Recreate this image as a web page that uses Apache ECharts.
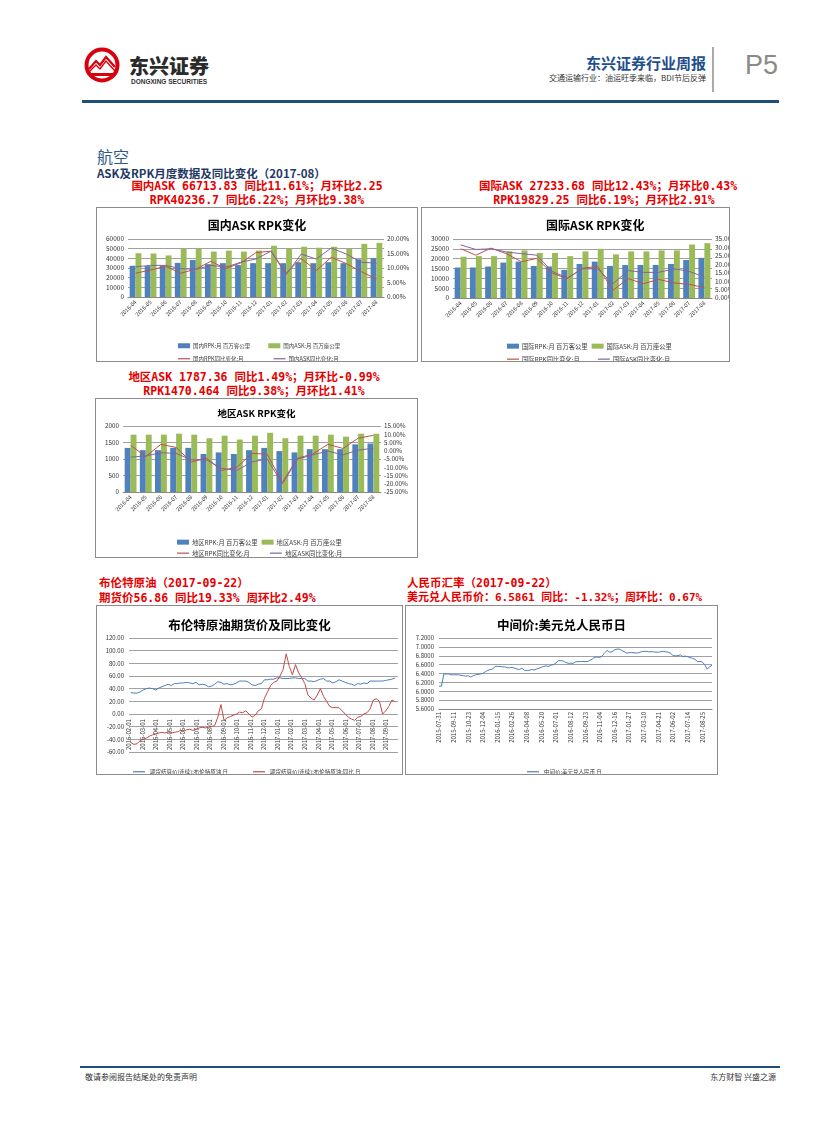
<!DOCTYPE html>
<html><head><meta charset="utf-8">
<script src="https://cdn.jsdelivr.net/npm/echarts@6/dist/echarts.min.js"></script>
<style>
body{margin:0;background:#fff;}
#page{position:relative;width:827px;height:1122px;overflow:hidden;background:#fff;font-family:"Noto Sans CJK SC","Noto Sans",sans-serif;}
.abs{position:absolute;white-space:nowrap;}
.box{position:absolute;border:1px solid #8c8c8c;box-sizing:border-box;background:#fff;overflow:hidden;}
.chart{position:absolute;left:0;top:0;width:100%;height:100%;}
.red{position:absolute;white-space:nowrap;color:#e60000;font-weight:bold;font-family:"DejaVu Sans Mono","Noto Sans CJK SC",monospace;font-size:11.5px;line-height:14px;}
.ctr{text-align:center;}
</style></head>
<body><div id="page">

<!-- header -->
<svg class="abs" style="left:84px;top:47px" width="36" height="36" viewBox="0 0 36 36">
  <circle cx="18" cy="18" r="15.5" fill="none" stroke="#d9000d" stroke-width="4"/>
  <path d="M5 22 L12 14 L16 18 L22 10 L31 20" fill="none" stroke="#d9000d" stroke-width="2.2"/>
  <path d="M5 25 L12 18 L16 22 L22 14 L31 24" fill="none" stroke="#d9000d" stroke-width="1.4"/>
  <rect x="5" y="26" width="26" height="3" fill="#d9000d"/>
</svg>
<div class="abs" style="left:129px;top:51px;font-size:20px;font-weight:900;color:#2a2a2a;letter-spacing:0px;">东兴证券</div>
<div class="abs" style="left:131px;top:78px;font-size:6.5px;font-weight:bold;color:#333;font-family:'Liberation Sans',sans-serif;">DONGXING SECURITIES</div>
<div class="abs" style="right:121px;top:52px;font-size:15px;font-weight:bold;color:#1f4e8c;">东兴证券行业周报</div>
<div class="abs" style="right:121px;top:72px;font-size:8px;color:#333;">交通运输行业：油运旺季来临，BDI节后反弹</div>
<div class="abs" style="left:712px;top:47px;width:2px;height:45px;background:#aaa;"></div>
<div class="abs" style="left:745px;top:50px;font-size:27px;color:#8a8a8a;font-family:'Liberation Sans Narrow','Liberation Sans',sans-serif;">P5</div>
<div class="abs" style="left:82px;top:100px;width:697px;height:3px;background:#1f4e79;"></div>

<!-- section -->
<div class="abs" style="left:97px;top:144px;font-size:16px;color:#2e5c8a;">航空</div>
<div class="abs" style="left:97px;top:165px;font-size:11.5px;font-weight:bold;color:#1f3864;">ASK及RPK月度数据及同比变化（2017-08）</div>

<div class="red ctr" style="left:96px;width:322px;top:179px;">国内ASK  66713.83  同比11.61%；月环比2.25</div>
<div class="red ctr" style="left:96px;width:322px;top:193px;">RPK40236.7  同比6.22%；月环比9.38%</div>
<div class="red ctr" style="left:458px;width:300px;top:179px;">国际ASK  27233.68  同比12.43%；月环比0.43%</div>
<div class="red ctr" style="left:454px;width:300px;top:193px;">RPK19829.25  同比6.19%；月环比2.91%</div>

<div class="box" style="left:96px;top:207px;width:322px;height:155px;"><div id="c1" class="chart"></div></div>
<div class="box" style="left:421px;top:207px;width:309px;height:155px;"><div id="c2" class="chart"></div></div>

<div class="red ctr" style="left:95px;width:318px;top:370px;">地区ASK  1787.36  同比1.49%；月环比-0.99%</div>
<div class="red ctr" style="left:95px;width:318px;top:384px;">RPK1470.464  同比9.38%；月环比1.41%</div>
<div class="box" style="left:95px;top:398px;width:323px;height:160px;"><div id="c3" class="chart"></div></div>

<div class="red" style="left:99px;top:576px;">布伦特原油（2017-09-22）</div>
<div class="red" style="left:99px;top:591px;">期货价56.86  同比19.33%  周环比2.49%</div>
<div class="red" style="left:407px;top:576px;">人民币汇率（2017-09-22）</div>
<div class="red" style="left:407px;top:591px;font-size:11px;">美元兑人民币价：6.5861 同比：-1.32%；周环比：0.67%</div>

<div class="box" style="left:96px;top:605px;width:307px;height:170px;"><div id="c4" class="chart"></div></div>
<div class="box" style="left:405px;top:605px;width:313px;height:170px;"><div id="c5" class="chart"></div></div>

<!-- footer -->
<div class="abs" style="left:80px;top:1066px;width:700px;height:2px;background:#1f4e79;"></div>
<div class="abs" style="left:85px;top:1071px;font-size:8px;color:#333;">敬请参阅报告结尾处的免责声明</div>
<div class="abs" style="right:51px;top:1071px;font-size:8px;color:#333;">东方财智 兴盛之源</div>
</div>

<script>
// ---------- data ----------
const months = ['2016-04','2016-05','2016-06','2016-07','2016-08','2016-09','2016-10','2016-11','2016-12','2017-01','2017-02','2017-03','2017-04','2017-05','2017-06','2017-07','2017-08'];

const domRPK = [32300,32000,32300,35300,38300,34000,35000,33000,35000,35000,35000,36000,35000,36000,35000,39000,40237];
const domASK = [45300,45000,43000,50000,50000,47000,48000,47000,48000,53000,50000,52000,51000,52000,50000,55000,56000];
const domRPKyoy = [8.2,9.3,10.6,8.2,9.6,12.3,9.8,11.8,15.3,15.8,8.2,13.3,9.1,13.7,11.5,8.7,6.22];
const domASKyoy = [10.4,10.9,10.9,9.8,9.5,10.9,10.3,12.0,13.1,15.8,7.7,14.8,13.1,16.9,14.8,12.0,11.61];

const intlRPK = [15500,15500,16000,18000,18500,16300,16000,14300,17300,18500,16300,16800,16800,16800,17300,19300,20400];
const intlASK = [21000,21300,21300,23700,24200,22900,22900,21300,23700,25000,22200,23700,23700,24200,24200,27200,27900];
const intlRPKyoy = [29.2,25.4,29.6,26.3,21.5,23.5,14.8,11.5,17.7,18.7,4.6,11.5,8.5,11.0,9.0,8.1,6.19];
const intlASKyoy = [31.5,28.8,29.2,27.3,26.3,25.4,15.8,11.9,17.3,17.3,8.5,16.3,15.2,15.2,17.3,15.8,12.43];

const regRPK = [1337,1268,1268,1337,1337,1151,1200,1151,1268,1337,1239,1200,1298,1298,1298,1444,1470];
const regASK = [1737,1737,1737,1766,1737,1629,1707,1590,1707,1795,1629,1707,1707,1737,1678,1766,1766];
const regRPKyoy = [3.3,-3.5,3.9,2.0,-6.8,-4.5,-11.9,-10.0,-1.6,-2.1,-19.1,-4.5,-2.0,3.9,1.4,7.6,9.38];
const regASKyoy = [-3.9,-3.1,-1.2,-1.6,-5.5,-5.5,-10.7,-11.9,-6.8,-4.9,-20.1,-5.1,-2.5,-0.2,-2.5,0.4,1.49];

// Brent: weekly (Fridays from 2016-02-05), x-axis ticks at month starts
const brentTickLabels = ['2016-02-01','2016-03-01','2016-04-01','2016-05-01','2016-06-01','2016-07-01','2016-08-01','2016-09-01','2016-10-01','2016-11-01','2016-12-01','2017-01-01','2017-02-01','2017-03-01','2017-04-01','2017-05-01','2017-06-01','2017-07-01','2017-08-01','2017-09-01'];
const brentPrice = [34,33,33,35,38,40,41,40,38,41,43,45,47,45,48,48,49,49,50,49,48,50,46,47,46,43,44,47,51,50,47,48,46,47,49,52,52,52,50,46,45,47,48,54,54,55,55,57,57,56,56,56,57,57,56,56,56,52,52,51,53,55,56,52,52,49,51,54,52,50,48,47,45,48,47,49,48,52,52,52,52,52,53,54,55,56.86];
const brentYoY = [-45,-48,-47,-42,-40,-38,-35,-33,-32,-30,-29,-30,-28,-30,-29,-28,-26,-27,-25,-24,-26,-24,-22,-21,-22,-21,-20,-18,-5,15,-10,-6,-4,-2,0,3,2,5,0,-5,-2,5,8,25,35,45,50,52,60,70,95,75,62,78,65,57,48,30,25,22,30,40,28,20,12,10,10,10,5,0,-5,-8,-10,-5,-4,0,2,8,22,24,20,0,5,12,22,19.33];

// RMB: weekly (Fridays from 2015-07-31), tick every 6 weeks
const rmbTickLabels = ['2015-07-31','2015-09-11','2015-10-23','2015-12-04','2016-01-15','2016-02-26','2016-04-08','2016-05-20','2016-07-01','2016-08-12','2016-09-23','2016-11-04','2016-12-16','2017-01-27','2017-03-10','2017-04-21','2017-06-02','2017-07-14','2017-08-25'];
const rmbRate = [6.116,6.116,6.39,6.39,6.39,6.37,6.37,6.37,6.37,6.36,6.35,6.34,6.35,6.32,6.35,6.37,6.38,6.39,6.40,6.44,6.47,6.49,6.50,6.56,6.56,6.56,6.55,6.55,6.53,6.53,6.54,6.52,6.50,6.49,6.52,6.47,6.47,6.47,6.49,6.48,6.50,6.52,6.54,6.56,6.57,6.56,6.59,6.60,6.64,6.69,6.69,6.68,6.65,6.63,6.63,6.63,6.66,6.67,6.67,6.67,6.67,6.67,6.70,6.73,6.77,6.77,6.76,6.80,6.87,6.92,6.88,6.89,6.93,6.95,6.95,6.92,6.89,6.86,6.87,6.87,6.87,6.86,6.87,6.89,6.90,6.90,6.89,6.89,6.89,6.88,6.88,6.89,6.90,6.89,6.88,6.86,6.80,6.80,6.80,6.82,6.78,6.79,6.78,6.76,6.74,6.72,6.67,6.67,6.66,6.60,6.50,6.55,6.586];

// ---------- style ----------
const F = '"Noto Sans CJK SC","Noto Sans",sans-serif';
const C_BLUE = '#4f81bd', C_GREEN = '#9bbb59', C_RED = '#c0504d', C_PURP = '#8064a2', C_LINE = '#4a7ebb', C_LRED = '#be4b48';
const GRID = '#a0a0a0', TXT = '#333';

function barLineChart(id, cfg) {
  const chart = echarts.init(document.getElementById(id));
  const names = cfg.names;
  chart.setOption({
    animation: false,
    textStyle: {fontFamily: F},
    title: {text: cfg.title, left: cfg.titleLeft, top: cfg.titleTop,
      textStyle: {fontSize: cfg.titleSize, fontWeight: 'bold', color: '#000', fontFamily: F}},
    grid: Object.assign({containLabel: false, outerBoundsMode: 'none'}, cfg.grid),
    legend: [
      {left: cfg.legLeft, top: cfg.legTop1, icon: 'rect', itemWidth: 12, itemHeight: 5, itemGap: cfg.legGap,
        textStyle: {fontSize: cfg.legFont, color: '#404040', fontFamily: F, padding: [0,0,0,-2]}, data: [names[0], names[1]]},
      {left: cfg.legLeft, top: cfg.legTop2, icon: 'rect', itemWidth: 12, itemHeight: 1.2, itemGap: cfg.legGap2,
        textStyle: {fontSize: cfg.legFont, color: '#404040', fontFamily: F, padding: [0,0,0,-2]}, data: [names[2], names[3]]}
    ],
    xAxis: {type: 'category', data: months,
      axisLabel: {rotate: 45, fontSize: cfg.xFont, interval: 0, margin: 4, color: TXT},
      axisTick: {show: false}, axisLine: {lineStyle: {color: '#888'}}},
    yAxis: [
      {type: 'value', min: cfg.yL[0], max: cfg.yL[1], interval: cfg.yL[2],
        axisLabel: {fontSize: cfg.yFont, margin: 4, color: TXT, formatter: v => String(v)},
        axisLine: {show: false}, axisTick: {show: false},
        splitLine: {lineStyle: {color: GRID, width: 1}}},
      {type: 'value', min: cfg.yR[0], max: cfg.yR[1], interval: cfg.yR[2],
        axisLabel: {fontSize: cfg.yFont, margin: 3, color: TXT, formatter: v => v.toFixed(2) + '%'},
        axisLine: {show: false}, axisTick: {show: false}, splitLine: {show: false}}
    ],
    series: [
      {name: names[0], type: 'bar', data: cfg.rpk, itemStyle: {color: C_BLUE}, barGap: '0%', barCategoryGap: '22%'},
      {name: names[1], type: 'bar', data: cfg.ask, itemStyle: {color: C_GREEN}},
      {name: names[2], type: 'line', yAxisIndex: 1, data: cfg.rpkY, symbol: 'none', lineStyle: {color: C_RED, width: 1}, itemStyle: {color: C_RED}, z: 5},
      {name: names[3], type: 'line', yAxisIndex: 1, data: cfg.askY, symbol: 'none', lineStyle: {color: C_PURP, width: 1}, itemStyle: {color: C_PURP}, z: 5}
    ]
  });
}

barLineChart('c1', {
  title: '国内ASK RPK变化', titleLeft: 'center', titleTop: 6, titleSize: 12,
  grid: {left: 31, right: 33, top: 31, bottom: 64},
  names: ['国内RPK:月 百万客公里', '国内ASK:月 百万座公里', '国内RPK同比变化:月', '国内ASK同比变化:月'],
  legLeft: 76, legTop1: 130, legTop2: 143, legGap: 18, legGap2: 30, legFont: 5.5,
  xFont: 5.5, yFont: 6.5,
  yL: [0, 60000, 10000], yR: [0, 20, 5],
  rpk: domRPK, ask: domASK, rpkY: domRPKyoy, askY: domASKyoy
});

barLineChart('c2', {
  title: '国际ASK RPK变化', titleLeft: 119, titleTop: 6, titleSize: 12,
  grid: {left: 31, right: 17, top: 31, bottom: 63},
  names: ['国际RPK:月 百万客公里', '国际ASK:月 百万座公里', '国际RPK同比变化:月', '国际ASK同比变化:月'],
  legLeft: 80, legTop1: 130, legTop2: 143, legGap: 4, legGap2: 18, legFont: 6.3,
  xFont: 5.5, yFont: 6.5,
  yL: [0, 30000, 5000], yR: [0, 35, 5],
  rpk: intlRPK, ask: intlASK, rpkY: intlRPKyoy, askY: intlASKyoy
});

barLineChart('c3', {
  title: '地区ASK RPK变化', titleLeft: 'center', titleTop: 5, titleSize: 9.5,
  grid: {left: 27, right: 36, top: 27, bottom: 65},
  names: ['地区RPK:月 百万客公里', '地区ASK:月 百万座公里', '地区RPK同比变化:月', '地区ASK同比变化:月'],
  legLeft: 76, legTop1: 135, legTop2: 146, legGap: 4, legGap2: 20, legFont: 6.3,
  xFont: 5.5, yFont: 6.3,
  yL: [0, 2000, 500], yR: [-25, 15, 5],
  rpk: regRPK, ask: regASK, rpkY: regRPKyoy, askY: regASKyoy
});

// Brent
(function () {
  const chart = echarts.init(document.getElementById('c4'));
  const wk = i => (4 + 7 * i) / 30.44; // months since 2016-02-01
  chart.setOption({
    animation: false,
    textStyle: {fontFamily: F},
    title: {text: '布伦特原油期货价及同比变化', left: 'center', top: 8,
      textStyle: {fontSize: 12.5, fontWeight: 'bold', color: '#000', fontFamily: F}},
    grid: {left: 32, right: 4, top: 32, bottom: 22, containLabel: false, outerBoundsMode: 'none'},
    legend: [
      {left: 31, top: 158, icon: 'rect', itemWidth: 12, itemHeight: 1.2,
        textStyle: {fontSize: 5.5, color: '#404040', fontFamily: F}, data: ['期货结算价(连续):布伦特原油 日']},
      {left: 151, top: 158, icon: 'rect', itemWidth: 12, itemHeight: 1.2,
        textStyle: {fontSize: 5.5, color: '#404040', fontFamily: F}, data: ['期货结算价(连续):布伦特原油:同比 日']}
    ],
    xAxis: {type: 'value', min: 0, max: 19.9, interval: 1,
      splitLine: {show: false},
      axisLine: {show: false, onZero: false},
      axisTick: {show: false},
      axisLabel: {inside: true, rotate: 90, fontSize: 6, margin: 2, color: TXT, showMaxLabel: false,
        formatter: v => brentTickLabels[Math.round(v)] !== undefined && Math.abs(v - Math.round(v)) < 1e-6 ? brentTickLabels[Math.round(v)] : ''}},
    yAxis: {type: 'value', min: -60, max: 120, interval: 20,
      axisLabel: {fontSize: 6, margin: 5, color: TXT, formatter: v => v.toFixed(2)},
      axisLine: {show: false}, axisTick: {show: false},
      splitLine: {lineStyle: {color: GRID, width: 1}}},
    series: [
      {name: '期货结算价(连续):布伦特原油 日', type: 'line', symbol: 'none',
        data: brentPrice.map((v, i) => [wk(i), v]), lineStyle: {color: C_LINE, width: 1}, itemStyle: {color: C_LINE}, z: 3},
      {name: '期货结算价(连续):布伦特原油:同比 日', type: 'line', symbol: 'none',
        data: brentYoY.map((v, i) => [wk(i), v]), lineStyle: {color: C_LRED, width: 1}, itemStyle: {color: C_LRED}, z: 4}
    ]
  });
})();

// RMB
(function () {
  const chart = echarts.init(document.getElementById('c5'));
  chart.setOption({
    animation: false,
    textStyle: {fontFamily: F},
    title: {text: '中间价:美元兑人民币日', left: 'center', top: 8,
      textStyle: {fontSize: 12.5, fontWeight: 'bold', color: '#000', fontFamily: F}},
    grid: {left: 33, right: 5, top: 32, bottom: 65, containLabel: false, outerBoundsMode: 'none'},
    legend: {left: 116, top: 158, icon: 'rect', itemWidth: 12, itemHeight: 1.2,
      textStyle: {fontSize: 5.5, color: '#404040', fontFamily: F}, data: ['中间价:美元兑人民币 日']},
    xAxis: {type: 'value', min: 0, max: 112, interval: 6,
      splitLine: {show: false},
      axisLine: {lineStyle: {color: '#888'}},
      axisTick: {show: false},
      axisLabel: {rotate: 90, fontSize: 6, margin: 3, color: TXT, showMaxLabel: false,
        formatter: v => (v % 6 === 0 && rmbTickLabels[v / 6]) ? rmbTickLabels[v / 6] : ''}},
    yAxis: {type: 'value', min: 5.6, max: 7.2, interval: 0.2,
      axisLabel: {fontSize: 6, margin: 5, color: TXT, formatter: v => v.toFixed(4)},
      axisLine: {show: false}, axisTick: {show: false},
      splitLine: {lineStyle: {color: GRID, width: 1}}},
    series: [
      {name: '中间价:美元兑人民币 日', type: 'line', symbol: 'none',
        data: rmbRate.map((v, i) => [i, v]), lineStyle: {color: C_LINE, width: 1}, itemStyle: {color: C_LINE}}
    ]
  });
})();
</script>
</body></html>
